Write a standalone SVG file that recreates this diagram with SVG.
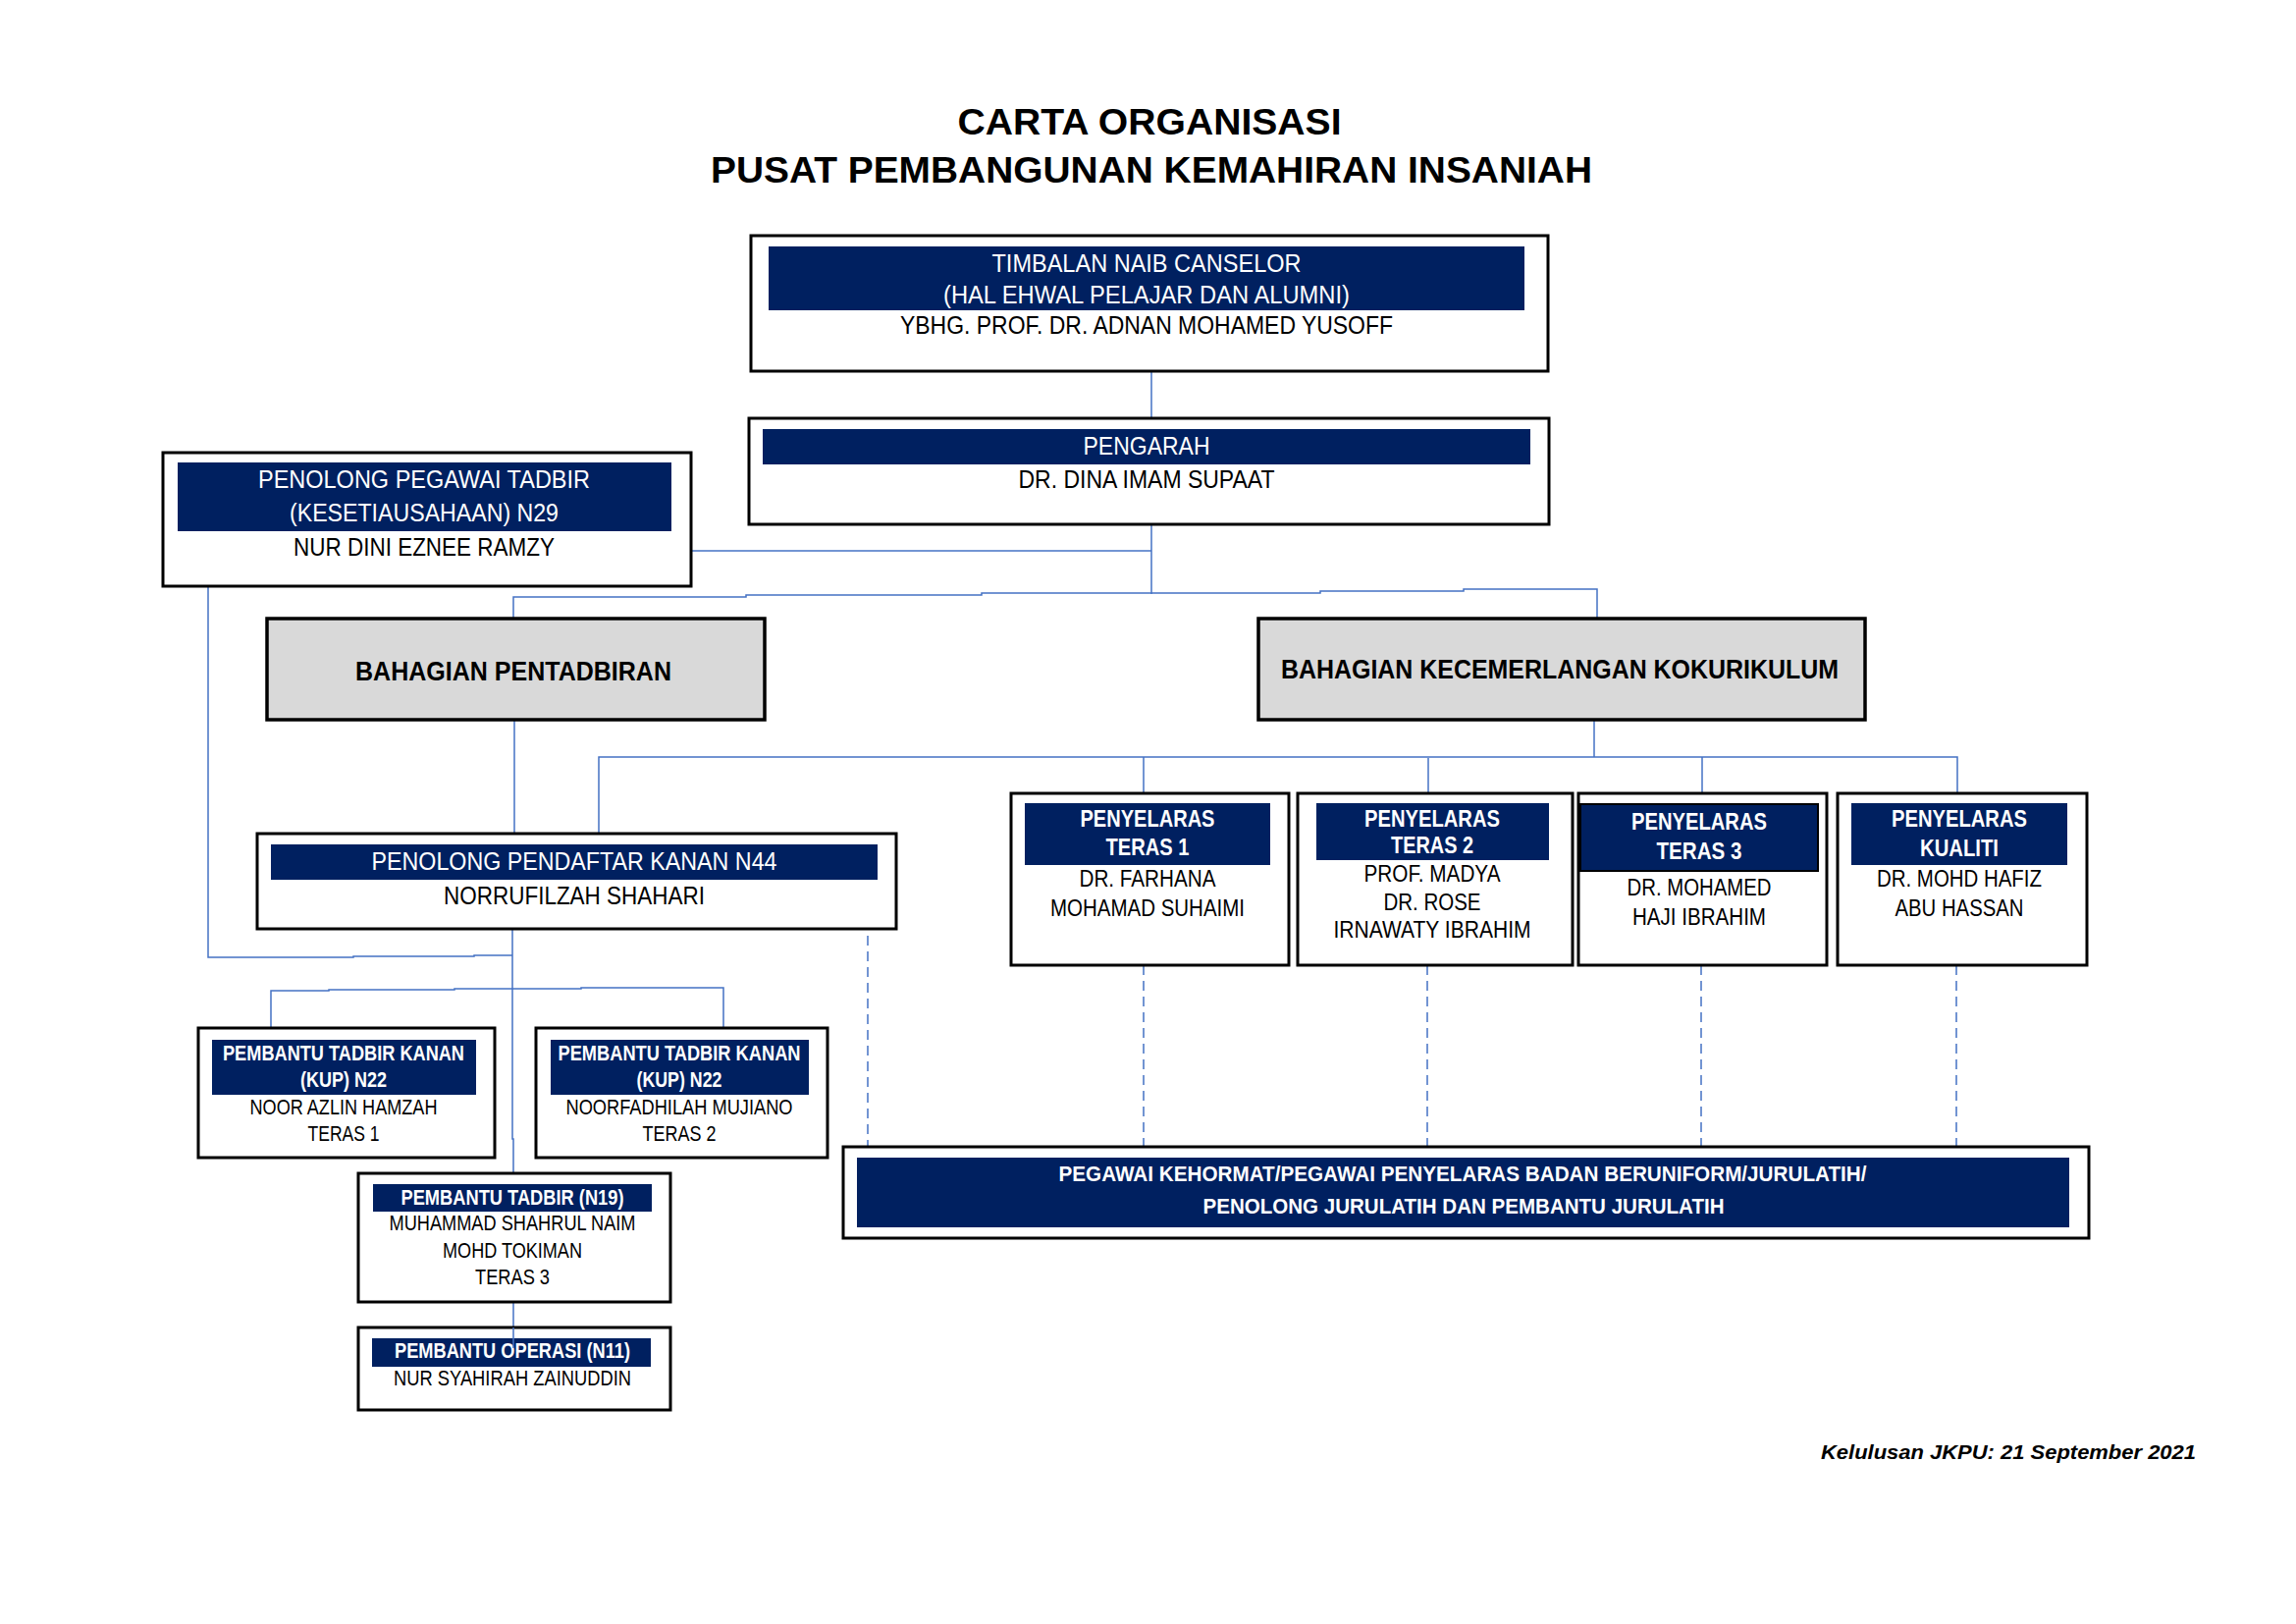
<svg xmlns="http://www.w3.org/2000/svg" width="2339" height="1654" viewBox="0 0 2339 1654">
<style>
.bg{fill:#ffffff}
.box{fill:#ffffff;stroke:#000000;stroke-width:3}
.gbox{fill:#D9D9D9;stroke:#000000;stroke-width:3.5}
.band{fill:#002060}
.band2{fill:#002060;stroke:#000000;stroke-width:2}
.t{font-family:"Liberation Sans Narrow","Arial Narrow","Liberation Sans",Arial,sans-serif;text-anchor:middle}
.w{fill:#ffffff}
.k{fill:#000000}
.b{font-weight:bold}
.L{font-size:26px}
.M{font-size:23px}
.S{font-size:22px}
.H{font-size:27px}
.title{font-family:"Liberation Sans",Arial,sans-serif;font-weight:bold;font-size:36px;text-anchor:middle;fill:#000}
.foot{font-family:"Liberation Sans",Arial,sans-serif;font-weight:bold;font-style:italic;font-size:21px;text-anchor:middle;fill:#000}
.c{fill:none;stroke:#4472C4;stroke-width:1.5}
.d{fill:none;stroke:#4472C4;stroke-width:1.5;stroke-dasharray:10 6}
</style>
<rect class="bg" x="0" y="0" width="2339" height="1654"/>

<g id="title">
<text class="title" x="1171" y="137" textLength="391" lengthAdjust="spacingAndGlyphs">CARTA ORGANISASI</text>
<text class="title" x="1173" y="186" textLength="898" lengthAdjust="spacingAndGlyphs">PUSAT PEMBANGUNAN KEMAHIRAN INSANIAH</text>
</g>

<g id="connectors">
<path class="c" d="M1173,378 V426"/>
<path class="c" d="M1173,534 V605"/>
<path class="c" d="M705,561 H1173"/>
<path class="c" d="M523,630 V608 H760 V606 H1000 V604 H1345 V602 H1491 V600 H1627 V630"/>
<path class="c" d="M524,733 V849"/>
<path class="c" d="M1624,733 V771"/>
<path class="c" d="M610,849 V771 H1994 V808"/>
<path class="c" d="M1165,771 V808"/>
<path class="c" d="M1455,772 V808"/>
<path class="c" d="M1734,771 V808"/>
<path class="c" d="M212,597 V975 H360 V974 H483 V973 H522"/>
<path class="c" d="M522,946 V1160 H523 V1195"/>
<path class="c" d="M276,1047 V1009 H335 V1008 H463 V1007 H592 V1006 H737 V1047"/>
<path class="c" d="M523,1326 V1373"/>
<path class="d" d="M884,953 V1167"/>
<path class="d" d="M1165,983 V1167"/>
<path class="d" d="M1454,983 V1167"/>
<path class="d" d="M1733,983 V1167"/>
<path class="d" d="M1993,983 V1167"/>
</g>

<g id="tnc">
<rect class="box" x="765" y="240" width="812" height="138"/>
<rect class="band" x="783" y="251" width="770" height="65"/>
<text class="t w L" x="1168" y="277" textLength="315" lengthAdjust="spacingAndGlyphs">TIMBALAN NAIB CANSELOR</text>
<text class="t w L" x="1168" y="309" textLength="414" lengthAdjust="spacingAndGlyphs">(HAL EHWAL PELAJAR DAN ALUMNI)</text>
<text class="t k L" x="1168" y="340" textLength="502" lengthAdjust="spacingAndGlyphs">YBHG. PROF. DR. ADNAN MOHAMED YUSOFF</text>
</g>

<g id="pengarah">
<rect class="box" x="763" y="426" width="815" height="108"/>
<rect class="band" x="777" y="437" width="782" height="36"/>
<text class="t w L" x="1168" y="463" textLength="129" lengthAdjust="spacingAndGlyphs">PENGARAH</text>
<text class="t k L" x="1168" y="497" textLength="261" lengthAdjust="spacingAndGlyphs">DR. DINA IMAM SUPAAT</text>
</g>

<g id="ppt">
<rect class="box" x="166" y="461" width="538" height="136"/>
<rect class="band" x="181" y="471" width="503" height="70"/>
<text class="t w L" x="432" y="497" textLength="338" lengthAdjust="spacingAndGlyphs">PENOLONG PEGAWAI TADBIR</text>
<text class="t w L" x="432" y="531" textLength="274" lengthAdjust="spacingAndGlyphs">(KESETIAUSAHAAN) N29</text>
<text class="t k L" x="432" y="566" textLength="266" lengthAdjust="spacingAndGlyphs">NUR DINI EZNEE RAMZY</text>
</g>

<g id="bp">
<rect class="gbox" x="272" y="630" width="507" height="103"/>
<text class="t k b H" x="523" y="693" textLength="322" lengthAdjust="spacingAndGlyphs">BAHAGIAN PENTADBIRAN</text>
</g>

<g id="bkk">
<rect class="gbox" x="1282" y="630" width="618" height="103"/>
<text class="t k b H" x="1589" y="691" textLength="568" lengthAdjust="spacingAndGlyphs">BAHAGIAN KECEMERLANGAN KOKURIKULUM</text>
</g>

<g id="ppk">
<rect class="box" x="262" y="849" width="651" height="97"/>
<rect class="band" x="276" y="860" width="618" height="36"/>
<text class="t w L" x="585" y="886" textLength="413" lengthAdjust="spacingAndGlyphs">PENOLONG PENDAFTAR KANAN N44</text>
<text class="t k L" x="585" y="921" textLength="266" lengthAdjust="spacingAndGlyphs">NORRUFILZAH SHAHARI</text>
</g>

<g id="teras1">
<rect class="box" x="1030" y="808" width="283" height="175"/>
<rect class="band" x="1044" y="818" width="250" height="63"/>
<text class="t w b M" x="1169" y="842" textLength="137" lengthAdjust="spacingAndGlyphs">PENYELARAS</text>
<text class="t w b M" x="1169" y="871" textLength="85" lengthAdjust="spacingAndGlyphs">TERAS 1</text>
<text class="t k M" x="1169" y="903" textLength="139" lengthAdjust="spacingAndGlyphs">DR. FARHANA</text>
<text class="t k M" x="1169" y="933" textLength="198" lengthAdjust="spacingAndGlyphs">MOHAMAD SUHAIMI</text>
</g>

<g id="teras2">
<rect class="box" x="1322" y="808" width="280" height="175"/>
<rect class="band" x="1341" y="818" width="237" height="58"/>
<text class="t w b M" x="1459" y="842" textLength="138" lengthAdjust="spacingAndGlyphs">PENYELARAS</text>
<text class="t w b M" x="1459" y="869" textLength="84" lengthAdjust="spacingAndGlyphs">TERAS 2</text>
<text class="t k M" x="1459" y="898" textLength="139" lengthAdjust="spacingAndGlyphs">PROF. MADYA</text>
<text class="t k M" x="1459" y="927" textLength="99" lengthAdjust="spacingAndGlyphs">DR. ROSE</text>
<text class="t k M" x="1459" y="955" textLength="201" lengthAdjust="spacingAndGlyphs">IRNAWATY IBRAHIM</text>
</g>

<g id="teras3">
<rect class="box" x="1608" y="808" width="253" height="175"/>
<rect class="band2" x="1610" y="819" width="242" height="68"/>
<text class="t w b M" x="1731" y="845" textLength="138" lengthAdjust="spacingAndGlyphs">PENYELARAS</text>
<text class="t w b M" x="1731" y="875" textLength="87" lengthAdjust="spacingAndGlyphs">TERAS 3</text>
<text class="t k M" x="1731" y="912" textLength="147" lengthAdjust="spacingAndGlyphs">DR. MOHAMED</text>
<text class="t k M" x="1731" y="942" textLength="136" lengthAdjust="spacingAndGlyphs">HAJI IBRAHIM</text>
</g>

<g id="kualiti">
<rect class="box" x="1872" y="808" width="254" height="175"/>
<rect class="band" x="1886" y="818" width="220" height="63"/>
<text class="t w b M" x="1996" y="842" textLength="138" lengthAdjust="spacingAndGlyphs">PENYELARAS</text>
<text class="t w b M" x="1996" y="872" textLength="80" lengthAdjust="spacingAndGlyphs">KUALITI</text>
<text class="t k M" x="1996" y="903" textLength="168" lengthAdjust="spacingAndGlyphs">DR. MOHD HAFIZ</text>
<text class="t k M" x="1996" y="933" textLength="131" lengthAdjust="spacingAndGlyphs">ABU HASSAN</text>
</g>

<g id="kup1">
<rect class="box" x="202" y="1047" width="302" height="132"/>
<rect class="band" x="216" y="1059" width="269" height="56"/>
<text class="t w b S" x="350" y="1080" textLength="246" lengthAdjust="spacingAndGlyphs">PEMBANTU TADBIR KANAN</text>
<text class="t w b S" x="350" y="1107" textLength="88" lengthAdjust="spacingAndGlyphs">(KUP) N22</text>
<text class="t k S" x="350" y="1135" textLength="191" lengthAdjust="spacingAndGlyphs">NOOR AZLIN HAMZAH</text>
<text class="t k S" x="350" y="1162" textLength="73" lengthAdjust="spacingAndGlyphs">TERAS 1</text>
</g>

<g id="kup2">
<rect class="box" x="546" y="1047" width="297" height="132"/>
<rect class="band" x="561" y="1059" width="263" height="56"/>
<text class="t w b S" x="692" y="1080" textLength="247" lengthAdjust="spacingAndGlyphs">PEMBANTU TADBIR KANAN</text>
<text class="t w b S" x="692" y="1107" textLength="87" lengthAdjust="spacingAndGlyphs">(KUP) N22</text>
<text class="t k S" x="692" y="1135" textLength="231" lengthAdjust="spacingAndGlyphs">NOORFADHILAH MUJIANO</text>
<text class="t k S" x="692" y="1162" textLength="75" lengthAdjust="spacingAndGlyphs">TERAS 2</text>
</g>

<g id="pt19">
<rect class="box" x="365" y="1195" width="318" height="131"/>
<rect class="band" x="380" y="1206" width="284" height="28"/>
<text class="t w b S" x="522" y="1227" textLength="227" lengthAdjust="spacingAndGlyphs">PEMBANTU TADBIR (N19)</text>
<text class="t k S" x="522" y="1253" textLength="251" lengthAdjust="spacingAndGlyphs">MUHAMMAD SHAHRUL NAIM</text>
<text class="t k S" x="522" y="1281" textLength="142" lengthAdjust="spacingAndGlyphs">MOHD TOKIMAN</text>
<text class="t k S" x="522" y="1308" textLength="76" lengthAdjust="spacingAndGlyphs">TERAS 3</text>
</g>

<g id="po11">
<rect class="box" x="365" y="1352" width="318" height="84"/>
<rect class="band" x="379" y="1363" width="284" height="29"/>
<text class="t w b S" x="522" y="1383" textLength="240" lengthAdjust="spacingAndGlyphs">PEMBANTU OPERASI (N11)</text>
<text class="t k S" x="522" y="1411" textLength="242" lengthAdjust="spacingAndGlyphs">NUR SYAHIRAH ZAINUDDIN</text>
</g>
<path class="c" d="M523,1352 V1373"/>

<g id="pegawai">
<rect class="box" x="859" y="1168" width="1269" height="93"/>
<rect class="band" x="873" y="1179" width="1235" height="71"/>
<text class="t w b S" x="1490" y="1203" textLength="823" lengthAdjust="spacingAndGlyphs">PEGAWAI KEHORMAT/PEGAWAI PENYELARAS BADAN BERUNIFORM/JURULATIH/</text>
<text class="t w b S" x="1491" y="1236" textLength="531" lengthAdjust="spacingAndGlyphs">PENOLONG JURULATIH DAN PEMBANTU JURULATIH</text>
</g>

<g id="footer">
<text class="foot" x="2046" y="1486" textLength="382" lengthAdjust="spacingAndGlyphs">Kelulusan JKPU: 21 September 2021</text>
</g>
</svg>
